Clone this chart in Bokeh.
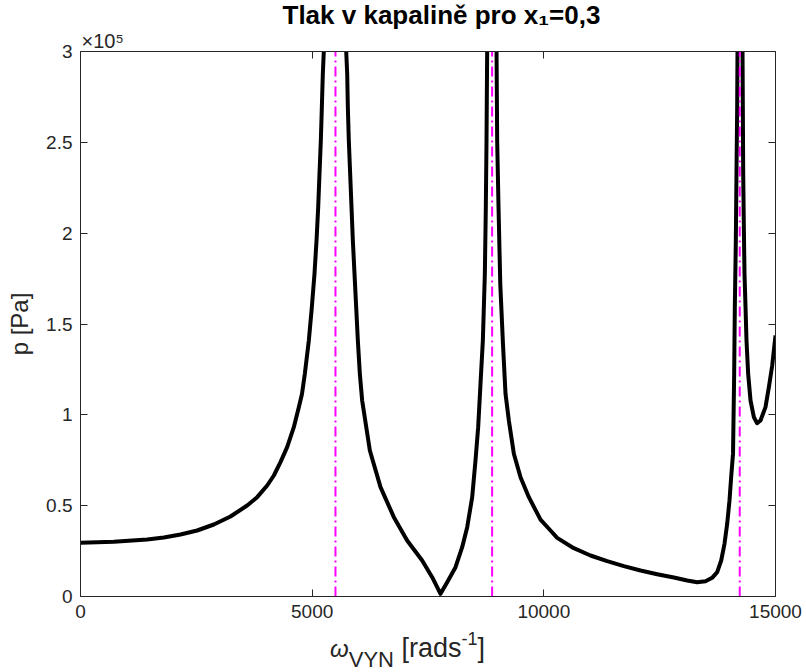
from bokeh.plotting import figure
from bokeh.models import (LinearAxis, FixedTicker, Range1d, ColumnDataSource,
                          Div, Title)
from bokeh.layouts import column
from bokeh.embed import file_html
from bokeh.resources import INLINE

# ---------------- data ----------------
omega = [0, 719, 1439, 1799, 2158, 2518, 2878, 3237, 3597, 3813, 4029, 4173,
         4316, 4460, 4604, 4712, 4780, 4842, 4928, 4993, 5050, 5094, 5130,
         5158, 5187, 5209, 5230, 5252, 5503, 5734, 5756, 5770, 5791, 5820,
         5849, 5878, 5914, 5950, 5986, 6029, 6079, 6245, 6475, 6763, 7050,
         7374, 7590, 7770, 7914, 8094, 8238, 8346, 8454, 8525, 8583, 8633,
         8684, 8727, 8748, 8763, 8777, 8884, 8979, 8993, 9022, 9060, 9118,
         9173, 9245, 9353, 9497, 9677, 9928, 10144, 10288, 10647, 11007,
         11367, 11727, 12087, 12446, 12806, 13094, 13310, 13490, 13633,
         13741, 13828, 13899, 13957, 14007, 14043, 14083, 14108, 14122,
         14144, 14158, 14173, 14180, 14228, 14288, 14295, 14303, 14316,
         14331, 14353, 14374, 14410, 14461, 14533, 14604, 14676, 14784,
         14857, 14929, 15000]
pressure = [29550, 30100, 31380, 32480, 34130, 36330, 39630, 44040, 50090,
            54680, 61100, 66610, 73940, 82200, 93210, 104220, 111500, 122580,
            140920, 159270, 177630, 195960, 214300, 232670, 251010, 269350,
            287720, 300550, 3000000, 300550, 287720, 269350, 251010, 232670,
            214300, 195960, 177630, 159270, 140920, 122580, 107890, 80370,
            60180, 43670, 30830, 19820, 10640, 1470, 7890, 16150, 27160,
            38170, 54680, 74860, 93210, 117060, 140920, 177630, 214300,
            251010, 300550, 3000000, 300550, 251010, 214300, 172000, 139000,
            111570, 96880, 78550, 65670, 54680, 42300, 36330, 32290, 26600,
            22570, 19450, 16700, 14310, 12290, 10460, 8810, 7890, 8440, 10280,
            13400, 19820, 28990, 40000, 52840, 65690, 78500, 122580, 159270,
            195960, 232670, 269350, 300550, 3000000, 300550, 269350, 232670,
            205140, 177630, 159270, 140920, 122580, 107890, 98710, 95410,
            96880, 104220, 115230, 127160, 143670]
resonance = [5503, 8884, 14228]
y_limits = [0, 300000]
x_limits = [0, 15000]
scale = 1e5
x_ticks = [0, 5000, 10000, 15000]
x_tick_labels = ["0", "5000", "10000", "15000"]
y_ticks = [0, 0.5, 1, 1.5, 2, 2.5, 3]
y_tick_labels = ["0", "0.5", "1", "1.5", "2", "2.5", "3"]

title_text = "Tlak v kapalině pro x\u2081=0,3"
exponent_text = "\u00d710\u2075"
xlab_sym, xlab_sub, xlab_unit, xlab_sup, xlab_end = "ω", "VYN", " [rads", "-1", "]"
ylab = "p [Pa]"

# ---------------- layout ----------------
FONT = "Liberation Sans"
AX = "#262626"
FL, FT, FW, FH = 80, 51, 695, 545
BORDER_BOTTOM = 32
BOT_H = 43

p = figure(frame_width=FW, frame_height=FH, title=None,
           x_range=Range1d(x_limits[0], x_limits[1]),
           y_range=Range1d(y_limits[0] / scale, y_limits[1] / scale),
           output_backend="svg", toolbar_location=None,
           min_border_left=FL, min_border_right=30, min_border_top=FT,
           min_border_bottom=BORDER_BOTTOM, background_fill_color="white",
           border_fill_color="white", margin=0)
p.outline_line_color = None
p.grid.visible = False

src = ColumnDataSource(dict(x=omega, y=[v / scale for v in pressure]))
p.line("x", "y", source=src, line_color="black", line_width=4,
       line_join="round")

p.segment(x0=resonance, x1=resonance,
          y0=[y_limits[0] / scale] * len(resonance),
          y1=[y_limits[1] / scale] * len(resonance),
          line_color="#FF00FF", line_width=2, line_dash="10 4 2 4")

def style(ax, ticks, labels, show):
    ax.ticker = FixedTicker(ticks=ticks)
    ax.major_label_overrides = {t: l for t, l in zip(ticks, labels)}
    ax.minor_tick_line_color = None
    ax.major_tick_in = 7
    ax.major_tick_out = 0
    ax.axis_line_color = AX
    ax.axis_line_width = 1
    ax.major_tick_line_color = AX
    ax.major_label_text_font = FONT
    if show:
        ax.major_label_text_color = AX
        ax.major_label_text_font_size = "19px"
        ax.major_label_standoff = 8
    else:
        ax.major_label_text_color = None
        ax.major_label_text_font_size = "1px"
        ax.major_label_standoff = 0

style(p.xaxis[0], x_ticks, x_tick_labels, True)
style(p.yaxis[0], y_ticks, y_tick_labels, True)
p.yaxis[0].axis_label = ylab
p.yaxis[0].axis_label_text_font = FONT
p.yaxis[0].axis_label_text_font_size = "24px"
p.yaxis[0].axis_label_text_font_style = "normal"
p.yaxis[0].axis_label_text_color = AX
p.yaxis[0].axis_label_standoff = 10

top = LinearAxis()
right = LinearAxis()
style(top, x_ticks, x_tick_labels, False)
style(right, y_ticks, y_tick_labels, False)
p.add_layout(top, "above")
p.add_layout(right, "right")

# exponent marker and title above the frame (both real SVG text)
p.add_layout(Title(text=exponent_text, align="left", offset=1, standoff=0,
                   text_font=FONT, text_font_size="20px",
                   text_font_style="normal", text_color=AX), "above")
p.add_layout(Title(text=title_text, align="left", offset=202, standoff=-5,
                   text_font=FONT, text_font_size="26px",
                   text_font_style="bold", text_color="black"), "above")

# x axis label with sub/superscripts
FF = "font-family:'Liberation Sans',Arial,sans-serif;"

def top_of(baseline, size):
    return baseline - 0.8465 * size

bot_base = 658 - (FT + FH + BORDER_BOTTOM)
bot_html = (
    f'<div style="position:relative;width:806px;height:{BOT_H}px;{FF}">'
    f'<span style="position:absolute;left:330px;top:{top_of(bot_base, 27):.1f}px;'
    f'font-size:27px;line-height:27px;color:{AX};white-space:nowrap;">'
    f'<span style="font-size:24px;line-height:24px;font-style:italic;">{xlab_sym}</span>'
    f'<span style="font-size:22px;line-height:22px;position:relative;top:10px;">{xlab_sub}</span>'
    f'{xlab_unit}<span style="font-size:18px;line-height:18px;position:relative;top:-12px;">'
    f'{xlab_sup}</span>{xlab_end}</span></div>')

bot_div = Div(text=bot_html, width=806, height=BOT_H, margin=0)

layout = column(p, bot_div, spacing=0, margin=0)
open("out.html", "w").write(file_html(layout, INLINE))
